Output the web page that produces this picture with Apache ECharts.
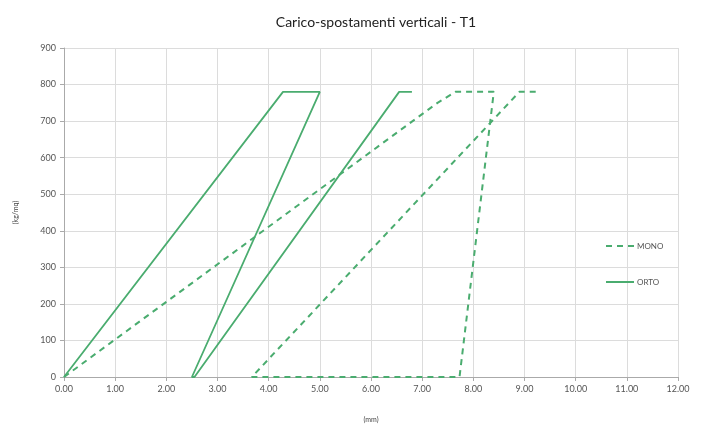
<!DOCTYPE html>
<html><head><meta charset="utf-8">
<script src="https://cdn.jsdelivr.net/npm/echarts@6/dist/echarts.min.js"></script>
<style>html,body{margin:0;padding:0;background:#fff}#c{width:702px;height:428px}</style>
</head><body><div id="c"></div>
<script>
const title = 'Carico-spostamenti verticali - T1';
const seriesNames = ['MONO', 'ORTO'];
const monoX = [0.00, 7.30, 7.65, 8.40, 7.73, 3.67, 8.90, 9.30];
const monoY = [0, 750, 780, 780, 0, 0, 780, 780];
const ortoX = [0.00, 4.28, 5.00, 2.50, 2.55, 6.55, 6.80];
const ortoY = [0, 780, 780, 0, 0, 780, 780];
const xTicks = {min: 0, max: 12, interval: 1};
const yTicks = {min: 0, max: 900, interval: 100};

const pts = (xs, ys) => xs.map((x, i) => [x, ys[i]]);
const green = '#4aac6f';
const font = 'Lato, "Open Sans", sans-serif';
const chart = echarts.init(document.getElementById('c'));
chart.setOption({
  animation: false,
  title: {text: title, left: 371, top: 10, textAlign: 'center',
    textStyle: {fontFamily: font, fontSize: 14, fontWeight: 'normal', color: '#222'}},
  grid: {left: 64, right: 24, top: 48, bottom: 50, containLabel: false},
  legend: {orient: 'vertical', left: 600, top: 237, itemGap: 28, itemWidth: 28, itemHeight: 8,
    itemStyle: {opacity: 0},
    textStyle: {fontFamily: font, fontSize: 8, color: '#555', padding: [0, 0, 0, -2]},
    data: seriesNames},
  xAxis: {type: 'value', min: xTicks.min, max: xTicks.max, interval: xTicks.interval,
    name: '(mm)', nameLocation: 'middle', nameGap: 39,
    nameTextStyle: {fontFamily: font, fontSize: 7, color: '#444'},
    axisLine: {lineStyle: {color: '#aaa'}},
    axisTick: {show: true, length: 4, lineStyle: {color: '#aaa'}},
    axisLabel: {fontFamily: font, fontSize: 9, color: '#555', margin: 8, formatter: v => v.toFixed(2)},
    splitLine: {show: true, lineStyle: {color: '#dcdcdc'}}},
  yAxis: {type: 'value', min: yTicks.min, max: yTicks.max, interval: yTicks.interval,
    name: '(kg/mq)', nameLocation: 'middle', nameGap: 45, nameRotate: 90,
    nameTextStyle: {fontFamily: font, fontSize: 7, color: '#444'},
    axisLine: {show: true, lineStyle: {color: '#aaa'}},
    axisTick: {show: true, length: 4, lineStyle: {color: '#aaa'}},
    axisLabel: {fontFamily: font, fontSize: 9, color: '#555', margin: 8},
    splitLine: {show: true, lineStyle: {color: '#dcdcdc'}}},
  series: [
    {name: seriesNames[0], type: 'line', data: pts(monoX, monoY), symbol: 'none', showSymbol: false,
      lineStyle: {color: green, width: 2, type: [6, 5]}, itemStyle: {color: green}},
    {name: seriesNames[1], type: 'line', data: pts(ortoX, ortoY), symbol: 'none', showSymbol: false,
      lineStyle: {color: green, width: 1.8}, itemStyle: {color: green}}
  ]
});
</script></body></html>
